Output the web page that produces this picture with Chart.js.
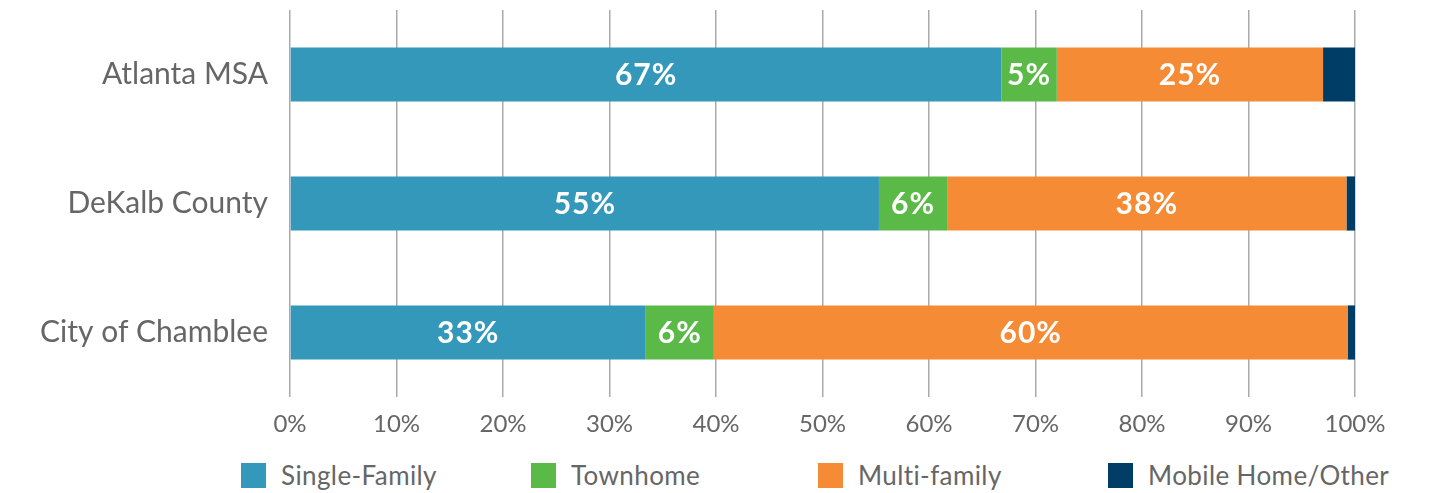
<!DOCTYPE html>
<html>
<head>
<meta charset="utf-8">
<script src="https://cdn.jsdelivr.net/npm/chart.js@4/dist/chart.umd.min.js"></script>
<style>
  html, body { margin: 0; padding: 0; background: #fff; }
  #wrap { width: 1432px; height: 443px; position: relative; }
  #legend {
    display: flex;
    padding-left: 241px;
    height: 64px;
    align-items: center;
    font-family: Lato, sans-serif;
    font-size: 26px;
    letter-spacing: 0.4px;
    color: #666;
  }
  .item { width: 290px; display: flex; align-items: center; }
  .item:nth-child(2) { width: 287px; }
  .swatch { width: 25px; height: 25px; margin-right: 15px; flex: none; }
</style>
</head>
<body>
<div id="wrap"><canvas id="chart"></canvas></div>
<div id="legend"></div>
<script>
const categories = ['Atlanta MSA', 'DeKalb County', 'City of Chamblee'];
const seriesNames = ['Single-Family', 'Townhome', 'Multi-family', 'Mobile Home/Other'];
const singleFamily = [66.8, 55.3, 33.4];
const townhome = [5.2, 6.4, 6.4];
const multiFamily = [25.0, 37.5, 59.5];
const mobileOther = [3.0, 0.8, 0.7];
const tickLabels = ['0%', '10%', '20%', '30%', '40%', '50%', '60%', '70%', '80%', '90%', '100%'];

const colors = ['#3498BA', '#5BB947', '#F58B35', '#003D66'];
const fontFamily = 'Lato, sans-serif';

// white percentage labels inside the bars (not on the thin mobile segment)
const barLabels = {
  id: 'barLabels',
  afterDatasetsDraw(chart) {
    const ctx = chart.ctx;
    ctx.save();
    ctx.font = 'bold 30px ' + fontFamily;
    ctx.letterSpacing = '1px';
    ctx.fillStyle = '#fff';
    ctx.textAlign = 'center';
    ctx.textBaseline = 'middle';
    chart.data.datasets.forEach((ds, i) => {
      if (i === 3) return;
      chart.getDatasetMeta(i).data.forEach((bar, j) => {
        const v = ds.data[j];
        ctx.fillText(Math.round(v) + '%', (bar.x + bar.base) / 2, bar.y + 1);
      });
    });
    ctx.restore();
  }
};

const chart = new Chart(document.getElementById('chart'), {
  type: 'bar',
  data: {
    labels: categories,
    datasets: [singleFamily, townhome, multiFamily, mobileOther].map((d, i) => ({
      label: seriesNames[i],
      data: d,
      backgroundColor: colors[i],
      barPercentage: 0.42,
      categoryPercentage: 1
    }))
  },
  options: {
    indexAxis: 'y',
    responsive: true,
    maintainAspectRatio: false,
    animation: false,
    layout: { padding: { top: 10, right: 77, left: 0, bottom: 0 } },
    plugins: {
      legend: { display: false },
      tooltip: { enabled: false }
    },
    scales: {
      x: {
        stacked: true,
        min: 0,
        max: 100,
        afterFit: s => { s.height = 46; s.paddingLeft = 0; s.paddingRight = 0; },
        ticks: {
          stepSize: 10,
          padding: 13,
          color: '#666',
          font: { family: fontFamily, size: 24 },
          callback: (v, i) => tickLabels[i]
        },
        grid: { color: '#aaa', lineWidth: 1.5, drawTicks: false },
        border: { display: false }
      },
      y: {
        stacked: true,
        afterFit: s => { s.width = 290; s.paddingTop = 0; s.paddingBottom = 0; },
        ticks: {
          padding: 22,
          color: '#666',
          font: { family: fontFamily, size: 30 }
        },
        grid: { display: false, drawTicks: false },
        border: { display: false }
      }
    }
  },
  plugins: [barLabels]
});

// legend built from the chart's datasets
const legendEl = document.getElementById('legend');
chart.data.datasets.forEach(ds => {
  const item = document.createElement('div');
  item.className = 'item';
  item.innerHTML = '<span class="swatch" style="background:' + ds.backgroundColor + '"></span><span>' + ds.label + '</span>';
  legendEl.appendChild(item);
});
</script>
</body>
</html>
